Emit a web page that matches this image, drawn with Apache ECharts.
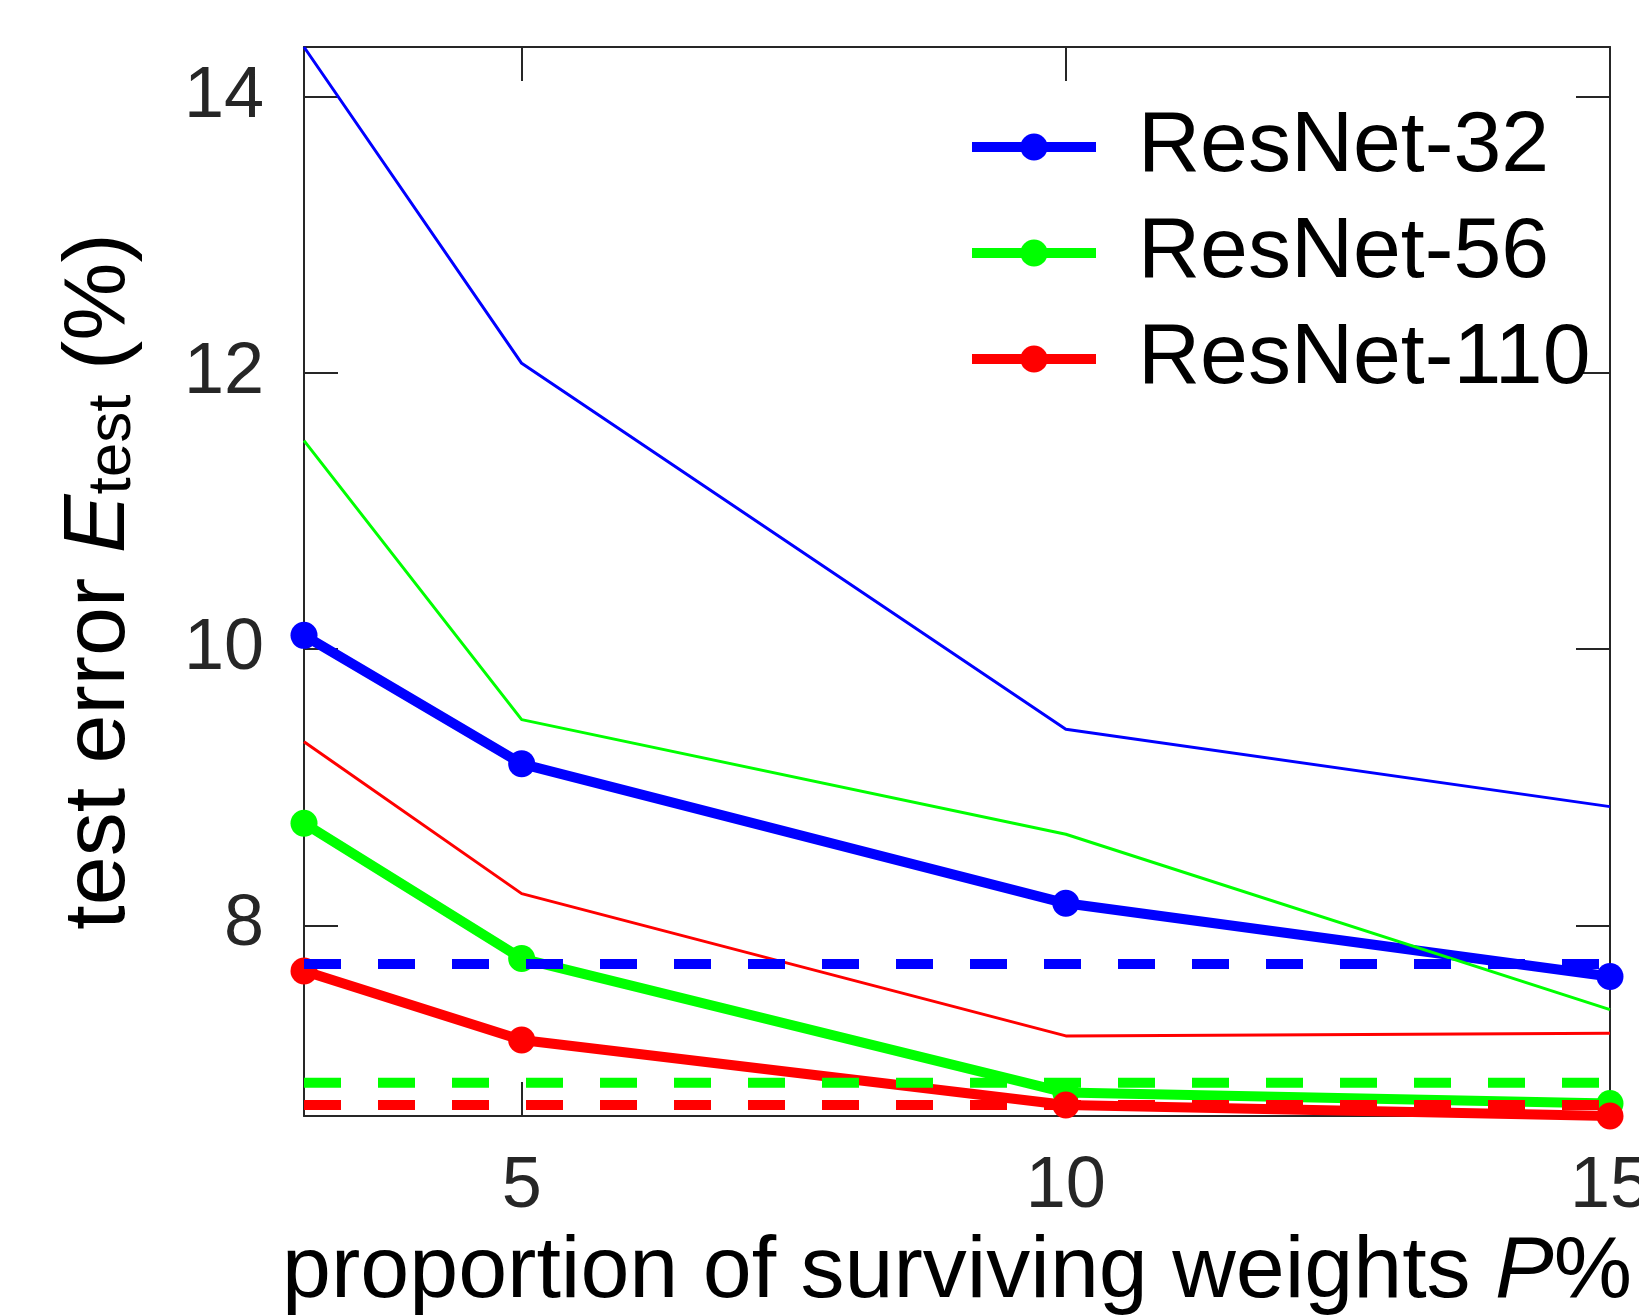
<!DOCTYPE html>
<html>
<head>
<meta charset="utf-8">
<script src="https://cdn.jsdelivr.net/npm/echarts@6/dist/echarts.min.js"></script>
<style>
  html, body { margin: 0; padding: 0; background: #fff; }
  .demo { width: 1639px; height: 1316px; }
</style>
</head>
<body>
<div class="demo"></div>
<script>
// proportion of surviving weights (%)
const pValues = [3, 5, 10, 15]
const xRange = [3, 15]
const xTicks = [5, 10, 15]
const yTicks = [8, 10, 12, 14]

const names = ['ResNet-32', 'ResNet-56', 'ResNet-110']
const colors = ['#0000ff', '#00ff00', '#ff0000']

// thick lines with dots
const res32Thick = [10.10, 9.17, 8.16, 7.63]
const res56Thick = [8.74, 7.76, 6.79, 6.71]
const res110Thick = [7.67, 7.17, 6.70, 6.62]

// thin lines
const res32Thin = [14.36, 12.07, 9.42, 8.86]
const res56Thin = [11.51, 9.49, 8.66, 7.39]
const res110Thin = [9.33, 8.23, 7.20, 7.22]

// dashed reference levels
const dashedLevels = [7.72, 6.86, 6.70]

const thick = [res32Thick, res56Thick, res110Thick]
const thin = [res32Thin, res56Thin, res110Thin]

const axisColor = '#262626'
const font = '"Liberation Sans", Arial, Helvetica, sans-serif'

let myChart = echarts.init(document.querySelector('.demo'))

let series = []
thick.forEach((vals, i) => {
  series.push({
    name: names[i],
    type: 'line',
    data: pValues.map((p, k) => [p, vals[k]]),
    symbol: 'circle',
    symbolSize: 27,
    clip: false,
    color: colors[i],
    lineStyle: { width: 10, color: colors[i] },
    itemStyle: { color: colors[i] },
    z: 2
  })
})
thin.forEach((vals, i) => {
  series.push({
    name: names[i] + ' thin',
    type: 'line',
    data: pValues.map((p, k) => [p, vals[k]]),
    symbol: 'none',
    clip: false,
    lineStyle: { width: 3, color: colors[i] },
    z: 3
  })
})
dashedLevels.forEach((v, i) => {
  series.push({
    name: names[i] + ' dashed',
    type: 'line',
    data: xRange.map(x => [x, v]),
    symbol: 'none',
    clip: false,
    lineStyle: { width: 10, color: colors[i], type: [37, 37] },
    z: 4
  })
})

let baseAxis = {
  axisLine: { show: true, onZero: false, lineStyle: { color: axisColor, width: 2 } },
  axisTick: { show: true, inside: true, length: 34, lineStyle: { color: axisColor, width: 2 } },
  splitLine: { show: false }
}

let option = {
  animation: false,
  backgroundColor: '#fff',
  grid: { left: 304, right: 29, top: 47, bottom: 200, containLabel: false, outerBoundsMode: 'none' },
  legend: {
    data: names,
    orient: 'vertical',
    left: 967,
    top: 99,
    padding: 0,
    itemGap: 10,
    itemWidth: 124,
    itemHeight: 34,
    lineStyle: { width: 10 },
    textStyle: { fontFamily: font, fontSize: 86, lineHeight: 96, color: '#000', padding: [0, 0, 0, 37] }
  },
  xAxis: [
    Object.assign({}, baseAxis, {
      type: 'value',
      min: xRange[0],
      max: xRange[1],
      position: 'bottom',
      axisTick: Object.assign({}, baseAxis.axisTick, { customValues: xTicks }),
      axisLabel: { customValues: xTicks, fontFamily: font, fontSize: 72, color: axisColor, margin: 35 },
      name: '{a|proportion of surviving weights }{i|P}{a|%}',
      nameLocation: 'middle',
      nameGap: 107,
      nameTextStyle: {
        rich: {
          a: { fontFamily: font, fontSize: 88, lineHeight: 100, color: '#000' },
          i: { fontFamily: font, fontSize: 88, lineHeight: 100, color: '#000', fontStyle: 'italic' }
        }
      }
    }),
    Object.assign({}, baseAxis, {
      type: 'value',
      min: xRange[0],
      max: xRange[1],
      position: 'top',
      axisTick: Object.assign({}, baseAxis.axisTick, { customValues: xTicks }),
      axisLabel: { show: false }
    })
  ],
  yAxis: [
    Object.assign({}, baseAxis, {
      type: 'value',
      min: 6.62,
      max: 14.36,
      position: 'left',
      axisTick: Object.assign({}, baseAxis.axisTick, { customValues: yTicks }),
      axisLabel: { customValues: yTicks, fontFamily: font, fontSize: 72, color: axisColor, margin: 40 },
      name: '{a|test error }{e|E}{s|test}{a| (%)}',
      nameLocation: 'middle',
      nameRotate: 90,
      nameGap: 160,
      nameTextStyle: {
        rich: {
          a: { fontFamily: font, fontSize: 88, lineHeight: 100, color: '#000', verticalAlign: 'bottom' },
          e: { fontFamily: font, fontSize: 88, lineHeight: 100, color: '#000', fontStyle: 'italic', verticalAlign: 'bottom' },
          s: { fontFamily: font, fontSize: 62, lineHeight: 60, color: '#000', verticalAlign: 'bottom' }
        }
      }
    }),
    Object.assign({}, baseAxis, {
      type: 'value',
      min: 6.62,
      max: 14.36,
      position: 'right',
      axisTick: Object.assign({}, baseAxis.axisTick, { customValues: yTicks }),
      axisLabel: { show: false }
    })
  ],
  series: series
}

myChart.setOption(option)
</script>
</body>
</html>
